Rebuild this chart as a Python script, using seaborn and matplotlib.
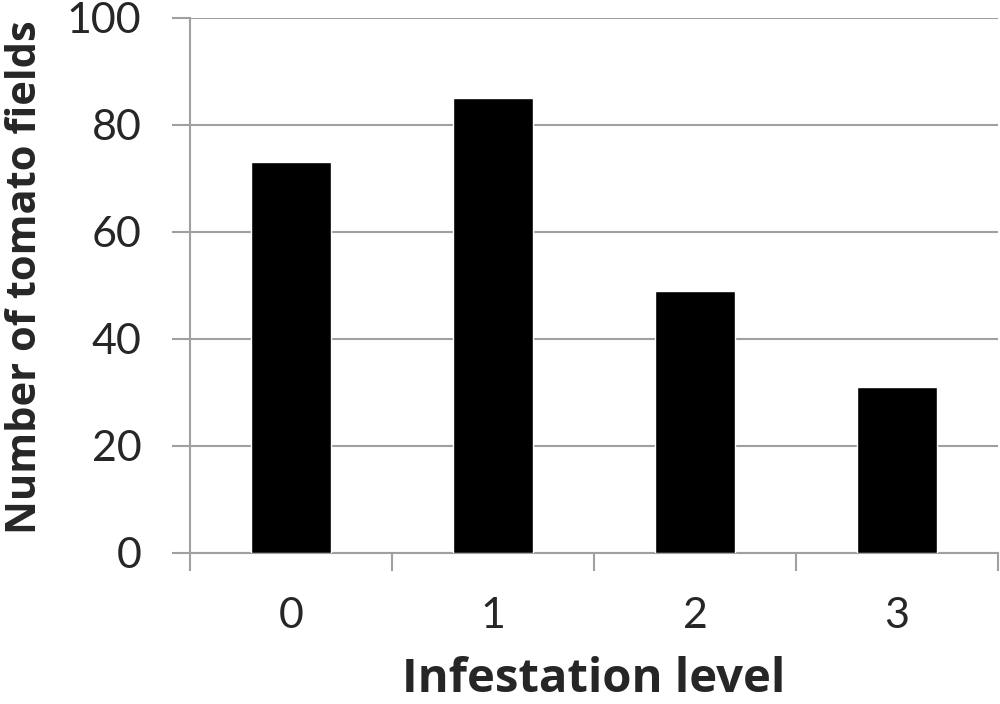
import matplotlib
matplotlib.use("Agg")
import matplotlib.pyplot as plt
import pandas as pd
import seaborn as sns

levels = ["0", "1", "2", "3"]
fields = [73, 85, 49, 31]
y_ticks = [0, 20, 40, 60, 80, 100]

df = pd.DataFrame({"level": levels, "count": fields})

sns.set_theme(style="white")
plt.rcParams["font.family"] = ["Lato", "DejaVu Sans"]

grey = "#a0a0a0"
fig = plt.figure(figsize=(10, 7.04), dpi=100)
ax = fig.add_axes([0.19, 0.2145, 0.808, 0.76])
sns.barplot(data=df, x="level", y="count", color="black", width=0.4,
            saturation=1, ax=ax, zorder=3)

ax.set_ylim(0, 100)
ax.set_xlim(-0.5, 3.5)
ax.set_yticks(y_ticks)
ax.yaxis.grid(True, color=grey, linewidth=1.5, zorder=0)
ax.set_axisbelow(True)

for side in ["top", "right"]:
    ax.spines[side].set_visible(False)
for side in ["left", "bottom"]:
    ax.spines[side].set_color(grey)
    ax.spines[side].set_linewidth(1.5)

# x ticks sit on the category boundaries, labels at the centres
ax.set_xticks([-0.5, 0.5, 1.5, 2.5, 3.5])
ax.set_xticklabels([])
ax.set_xticks(range(len(levels)), minor=True)
ax.set_xticklabels(levels, minor=True)
ax.tick_params(axis="x", which="major", direction="out", length=13,
               width=1.5, color=grey, bottom=True)
ax.tick_params(axis="x", which="minor", length=0, labelsize=31, pad=32)
ax.tick_params(axis="y", direction="out", length=13, width=1.5, color=grey,
               left=True, labelsize=31, pad=22)

label_font = ["Open Sans", "DejaVu Sans"]
ax.set_xlabel("Infestation level", fontsize=34, fontweight="bold",
              family=label_font, labelpad=15)
ax.set_ylabel("Number of tomato fields", fontsize=30, fontweight="bold",
              family=label_font)
ax.yaxis.set_label_coords(-0.178, 0.515)

fig.savefig("out.png", dpi=100)
